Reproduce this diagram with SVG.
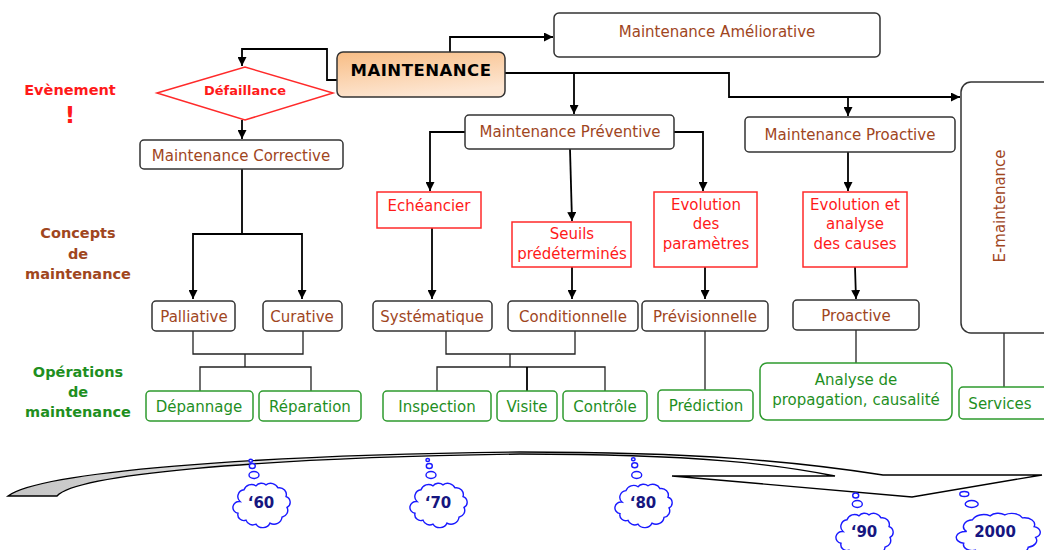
<svg xmlns="http://www.w3.org/2000/svg" width="1044" height="550" viewBox="0 0 1044 550">
<defs>
<style>
.bx{fill:#fff;stroke:#333;stroke-width:1.5}
.rb{fill:#fff;stroke:#ff2a2a;stroke-width:1.5}
.gb{fill:#fff;stroke:#2e9a2e;stroke-width:1.5}
.t{font-family:"DejaVu Sans",sans-serif;font-size:15px;text-anchor:middle}
.br{fill:#a0461e}
.rd{fill:#ff1a1a}
.gr{fill:#1f8f1f}
.lb{font-family:"DejaVu Sans",sans-serif;font-weight:bold;font-size:14.5px;text-anchor:middle}
.c{fill:none;stroke:#000;stroke-width:1.8}
.c2{fill:none;stroke:#222;stroke-width:1.3}
.cl{fill:#fff;stroke:#1a1aff;stroke-width:1.4}
.ct{font-family:"DejaVu Sans",sans-serif;font-weight:bold;font-size:15px;text-anchor:middle;fill:#161680}
</style>
<marker id="ah" viewBox="0 0 10 10" refX="10" refY="5" markerWidth="9" markerHeight="9" markerUnits="userSpaceOnUse" orient="auto">
<path d="M0,0 L10,5 L0,10 z" fill="#000"/>
</marker>
<linearGradient id="og" x1="0" y1="0" x2="0.35" y2="1">
<stop offset="0" stop-color="#f8bd85"/>
<stop offset="1" stop-color="#fde6d2"/>
</linearGradient>
<linearGradient id="ag" x1="0" y1="0" x2="1" y2="0">
<stop offset="0" stop-color="#c4c4c4"/>
<stop offset="0.3" stop-color="#e8e8e8"/>
<stop offset="0.5" stop-color="#ffffff"/>
</linearGradient>
<symbol id="cloud" viewBox="0 0 60 48" preserveAspectRatio="none" overflow="visible">
<path vector-effect="non-scaling-stroke" class="cl" d="M10,22 A7,7 0 0 1 14,10 A8,8 0 0 1 26,6 A7,7 0 0 1 36,5 A8,8 0 0 1 48,8 A7,7 0 0 1 56,17 A6,6 0 0 1 57,28 A7,7 0 0 1 52,38 A8,8 0 0 1 40,44 A8,8 0 0 1 26,45 A7,7 0 0 1 16,41 A6,6 0 0 1 8,34 A6,6 0 0 1 10,22 Z"/>
</symbol>
</defs>
<rect width="1044" height="550" fill="#fff"/>

<g id="labels">
<text class="lb rd" x="70" y="95">Evènement</text>
<text class="lb rd" x="70" y="123" style="font-size:23px">!</text>
<text class="lb br" x="78" y="238">Concepts</text>
<text class="lb br" x="78" y="259">de</text>
<text class="lb br" x="78" y="279">maintenance</text>
<text class="lb gr" x="78" y="377">Opérations</text>
<text class="lb gr" x="78" y="397">de</text>
<text class="lb gr" x="78" y="417">maintenance</text>
</g>

<g id="connectors">
<path class="c" d="M337,80 H327 V49 H242 V66" marker-end="url(#ah)"/>
<path class="c" d="M242,120 V139" marker-end="url(#ah)"/>
<path class="c" d="M450,52 V37 H553" marker-end="url(#ah)"/>
<path class="c" d="M505,73 H729 V97 H960" marker-end="url(#ah)"/>
<path class="c" d="M574,73 V114" marker-end="url(#ah)"/>
<path class="c" d="M848,97 V116" marker-end="url(#ah)"/>
<path class="c" d="M465,132 H430 V191" marker-end="url(#ah)"/>
<path class="c" d="M570,149 L572,221" marker-end="url(#ah)"/>
<path class="c" d="M674,132 H703 V191" marker-end="url(#ah)"/>
<path class="c" d="M848,152 V191" marker-end="url(#ah)"/>
<path class="c" d="M242,169 V234 M193,234 H302"/>
<path class="c" d="M193,233 V299" marker-end="url(#ah)"/>
<path class="c" d="M302,233 V299" marker-end="url(#ah)"/>
<path class="c" d="M432,228 V299" marker-end="url(#ah)"/>
<path class="c" d="M572,267 V299" marker-end="url(#ah)"/>
<path class="c" d="M705,267 V299" marker-end="url(#ah)"/>
<path class="c" d="M855,267 L856,299" marker-end="url(#ah)"/>
<path class="c2" d="M193,330 V354 H303 V330 M245,354 V367 M200,391 V367 H311 V391"/>
<path class="c2" d="M446,330 V354 H575 V331 M510,354 V367 M437,391 V367 H605 V391"/>
<path class="c" d="M527,367 V391"/>
<path class="c2" d="M705,331 V390"/>
<path class="c2" d="M856,330 V363"/>
<path class="c2" d="M1004,333 V387"/>
</g>

<g id="maintenance">
<rect x="337" y="52" width="168" height="45" rx="6" fill="url(#og)" stroke="#333" stroke-width="1.5"/>
<text x="421" y="76" font-family="DejaVu Sans,sans-serif" font-weight="bold" font-size="16.5" text-anchor="middle" letter-spacing="0.5" fill="#000">MAINTENANCE</text>
</g>
<g id="ameliorative">
<rect class="bx" x="554" y="13" width="326" height="44" rx="5"/>
<text class="t br" x="717" y="37">Maintenance Améliorative</text>
</g>
<g id="defaillance">
<polygon points="157,93 245,67 333,93 245,120" fill="#fff" stroke="#ff2a2a" stroke-width="1.5"/>
<text x="245" y="94.5" font-family="DejaVu Sans,sans-serif" font-weight="bold" font-size="13" text-anchor="middle" fill="#ff1a1a">Défaillance</text>
</g>
<g id="corrective">
<rect class="bx" x="140" y="140" width="203" height="29" rx="4"/>
<text class="t br" x="241" y="161">Maintenance Corrective</text>
</g>
<g id="preventive">
<rect class="bx" x="465" y="115" width="209" height="34" rx="4"/>
<text class="t br" x="570" y="136.5">Maintenance Préventive</text>
</g>
<g id="proactive-m">
<rect class="bx" x="745" y="117" width="210" height="35" rx="4"/>
<text class="t br" x="850" y="139.5">Maintenance Proactive</text>
</g>
<g id="e-maintenance">
<rect class="bx" x="961" y="82" width="110" height="251" rx="10"/>
<text class="t br" transform="translate(1005,206) rotate(-90)" x="0" y="0">E-maintenance</text>
</g>

<g id="echeancier">
<rect class="rb" x="377" y="192" width="104" height="36"/>
<text class="t rd" x="429" y="210.5">Echéancier</text>
</g>
<g id="seuils">
<rect class="rb" x="512" y="222" width="119" height="45"/>
<text class="t rd" x="572" y="238.5">Seuils</text>
<text class="t rd" x="572" y="258.5">prédéterminés</text>
</g>
<g id="evolution-param">
<rect class="rb" x="654" y="192" width="103" height="75"/>
<text class="t rd" x="706" y="209.5">Evolution</text>
<text class="t rd" x="706" y="228.5">des</text>
<text class="t rd" x="706" y="248.5">paramètres</text>
</g>
<g id="evolution-causes">
<rect class="rb" x="803" y="192" width="104" height="75"/>
<text class="t rd" x="855" y="209.5">Evolution et</text>
<text class="t rd" x="855" y="228.5">analyse</text>
<text class="t rd" x="855" y="248.5">des causes</text>
</g>

<g id="palliative">
<rect class="bx" x="152" y="301" width="83" height="30" rx="4"/>
<text class="t br" x="194" y="321.5">Palliative</text>
</g>
<g id="curative">
<rect class="bx" x="263" y="301" width="79" height="30" rx="4"/>
<text class="t br" x="302" y="321.5">Curative</text>
</g>
<g id="systematique">
<rect class="bx" x="373" y="301" width="119" height="30" rx="4"/>
<text class="t br" x="432" y="321.5">Systématique</text>
</g>
<g id="conditionnelle">
<rect class="bx" x="508" y="301" width="130" height="30" rx="4"/>
<text class="t br" x="573" y="321.5">Conditionnelle</text>
</g>
<g id="previsionnelle">
<rect class="bx" x="642" y="301" width="126" height="30" rx="4"/>
<text class="t br" x="705" y="321.5">Prévisionnelle</text>
</g>
<g id="proactive">
<rect class="bx" x="793" y="300" width="126" height="30" rx="4"/>
<text class="t br" x="856" y="320.5">Proactive</text>
</g>

<g id="depannage">
<rect class="gb" x="146" y="391" width="107" height="30" rx="4"/>
<text class="t gr" x="199" y="411.5">Dépannage</text>
</g>
<g id="reparation">
<rect class="gb" x="259" y="391" width="102" height="30" rx="4"/>
<text class="t gr" x="310" y="411.5">Réparation</text>
</g>
<g id="inspection">
<rect class="gb" x="383" y="391" width="108" height="30" rx="4"/>
<text class="t gr" x="437" y="411.5">Inspection</text>
</g>
<g id="visite">
<rect class="gb" x="497" y="391" width="60" height="30" rx="4"/>
<text class="t gr" x="527" y="411.5">Visite</text>
</g>
<g id="controle">
<rect class="gb" x="563" y="391" width="84" height="30" rx="4"/>
<text class="t gr" x="605" y="411.5">Contrôle</text>
</g>
<g id="prediction">
<rect class="gb" x="658" y="390" width="95" height="31" rx="4"/>
<text class="t gr" x="706" y="411">Prédiction</text>
</g>
<g id="analyse">
<rect class="gb" x="760" y="363" width="192" height="57" rx="7"/>
<text class="t gr" x="856" y="384.5">Analyse de</text>
<text class="t gr" x="856" y="404.5">propagation, causalité</text>
</g>
<g id="services">
<rect class="gb" x="959" y="387" width="110" height="32" rx="4"/>
<text class="t gr" x="1000" y="408.5">Services</text>
</g>

<g id="timeline">
<path d="M8,496 C40,472 250,455 520,452 C700,452 800,462 883,475 L1042,475 L912,497 L672,476 L835,476 C780,465 700,454 520,454 C250,458 75,475 57,496 Z" fill="url(#ag)" stroke="#000" stroke-width="1.4" stroke-linejoin="miter"/>
</g>

<g id="clouds">
<ellipse class="cl" cx="250.7" cy="460.7" rx="1.8" ry="1.5"/>
<ellipse class="cl" cx="252.3" cy="466" rx="3" ry="2.5"/>
<ellipse class="cl" cx="254" cy="475" rx="5" ry="3.5"/>
<use href="#cloud" x="230" y="480" width="60" height="47"/>
<text class="ct" x="261" y="508">‘60</text>

<ellipse class="cl" cx="427.7" cy="460" rx="1.8" ry="1.5"/>
<ellipse class="cl" cx="429.3" cy="466" rx="3" ry="2.5"/>
<ellipse class="cl" cx="431" cy="475" rx="5" ry="3.5"/>
<use href="#cloud" x="407" y="480" width="60" height="47"/>
<text class="ct" x="438" y="508">‘70</text>

<ellipse class="cl" cx="633.3" cy="459.3" rx="1.8" ry="1.5"/>
<ellipse class="cl" cx="634.7" cy="465.3" rx="3" ry="2.5"/>
<ellipse class="cl" cx="636.7" cy="475" rx="5" ry="3.5"/>
<use href="#cloud" x="612" y="481" width="60" height="46"/>
<text class="ct" x="643" y="508">‘80</text>

<ellipse class="cl" cx="855.7" cy="495.5" rx="3" ry="2.5"/>
<ellipse class="cl" cx="857.3" cy="504" rx="5" ry="3.5"/>
<use href="#cloud" x="833" y="510" width="60" height="47"/>
<text class="ct" x="864" y="537">‘90</text>

<ellipse class="cl" cx="964.3" cy="494" rx="4.5" ry="2.5"/>
<ellipse class="cl" cx="971.7" cy="504" rx="6.5" ry="3.5"/>
<use href="#cloud" x="952" y="510" width="88" height="47"/>
<text class="ct" x="995" y="537">2000</text>
</g>
</svg>
